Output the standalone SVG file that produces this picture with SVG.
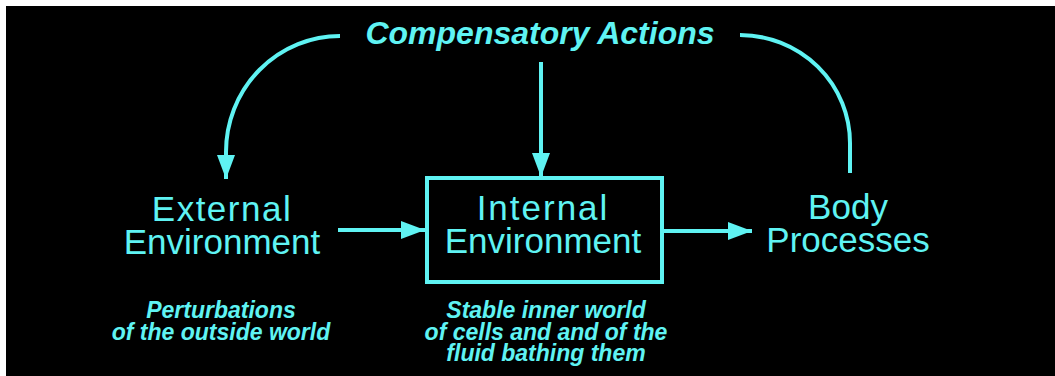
<svg xmlns="http://www.w3.org/2000/svg" width="1055" height="376" viewBox="0 0 1055 376">
  <defs>
    <marker id="head" viewBox="0 0 24 18" refX="24" refY="9" markerWidth="24" markerHeight="18" markerUnits="userSpaceOnUse" orient="auto">
      <path d="M0 0 L24 9 L0 18 Z" fill="#5ff3f3"/>
    </marker>
    <style>
      .bg { fill: #000000; }
      .line { fill: none; stroke: #5ff3f3; stroke-width: 4; }
      .box { fill: none; stroke: #5ff3f3; stroke-width: 4; }
      .label { font-family: "Liberation Sans", Arial, sans-serif; font-size: 35px; fill: #5ff3f3; text-anchor: middle; }
      .title { font-family: "Liberation Sans", Arial, sans-serif; font-size: 32px; font-weight: bold; font-style: italic; fill: #5ff3f3; text-anchor: middle; }
      .note { font-family: "Liberation Sans", Arial, sans-serif; font-size: 23px; font-weight: bold; font-style: italic; fill: #5ff3f3; text-anchor: middle; }
    </style>
  </defs>

  <rect x="0" y="0" width="1055" height="376" fill="#ffffff"/>
  <rect class="bg" x="6" y="6" width="1049" height="370"/>

  <g id="connectors">
    <!-- feedback from compensatory actions to the external environment -->
    <path class="line" d="M 340 36 A 114 116 0 0 0 226 152 L 226 179" marker-end="url(#head)"/>
    <!-- compensatory actions acting on the internal environment -->
    <path class="line" d="M 541 62 L 541 177" marker-end="url(#head)"/>
    <!-- body processes feeding back to compensatory actions -->
    <path class="line" d="M 740 35 A 110 108 0 0 1 850 143 L 850 173"/>
    <!-- external to internal environment -->
    <path class="line" d="M 338 230 L 425 230" marker-end="url(#head)"/>
    <!-- internal environment to body processes -->
    <path class="line" d="M 662 231 L 752 231" marker-end="url(#head)"/>
  </g>

  <g id="compensatory-actions">
    <text class="title" x="540" y="44">Compensatory Actions</text>
  </g>

  <g id="external-environment">
    <text class="label" x="222" y="221" letter-spacing="1.5">External</text>
    <text class="label" x="222" y="254">Environment</text>
    <text class="note" x="221" y="318">Perturbations</text>
    <text class="note" x="221" y="340">of the outside world</text>
  </g>

  <g id="internal-environment">
    <rect class="box" x="427" y="178" width="235" height="104"/>
    <text class="label" x="543" y="220" letter-spacing="2">Internal</text>
    <text class="label" x="543" y="253">Environment</text>
    <text class="note" x="546" y="318">Stable inner world</text>
    <text class="note" x="546" y="340">of cells and and of the</text>
    <text class="note" x="546" y="361">fluid bathing them</text>
  </g>

  <g id="body-processes">
    <text class="label" x="848" y="219">Body</text>
    <text class="label" x="848" y="252">Processes</text>
  </g>
</svg>
